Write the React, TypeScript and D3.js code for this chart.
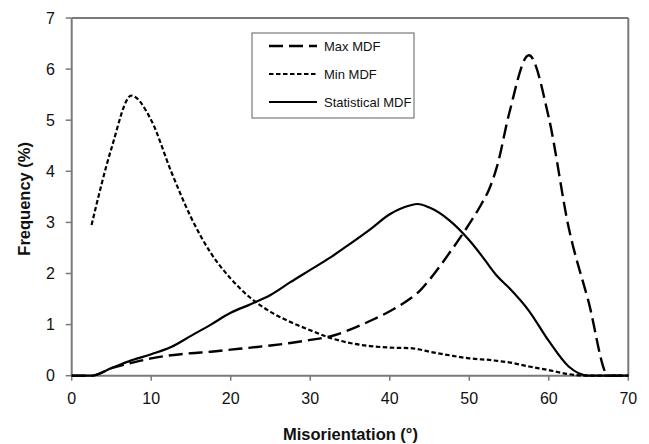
import React from "react";
import * as d3 from "d3";

// Misorientation angle (degrees) sample points
const angles = [0, 2.5, 5, 7.5, 10, 12.5, 15, 17.5, 20, 22.5, 25, 27.5, 30, 32.5, 35, 37.5, 40, 42.5, 43.5, 45, 47.5, 50, 51.5, 52.5, 53.5, 55, 57.5, 60, 62.5, 65, 67.5, 70];

// Frequency (%) for each distribution
const maxMdf = [0, 0, 0.15, 0.25, 0.34, 0.4, 0.44, 0.47, 0.51, 0.55, 0.59, 0.64, 0.7, 0.77, 0.9, 1.07, 1.26, 1.5, 1.62, 1.88, 2.4, 2.97, 3.35, 3.65, 4.1, 5.12, 6.27, 5.05, 2.9, 1.45, 0, 0];
const minMdf = [null, 2.95, 4.45, 5.48, 5.0, 4.0, 3.1, 2.4, 1.9, 1.52, 1.25, 1.05, 0.89, 0.74, 0.64, 0.58, 0.55, 0.54, 0.52, 0.47, 0.4, 0.34, 0.32, 0.31, 0.29, 0.26, 0.18, 0.11, 0.03, 0, 0, 0];
const statMdf = [0, 0, 0.15, 0.3, 0.42, 0.56, 0.78, 1.0, 1.23, 1.4, 1.58, 1.83, 2.07, 2.31, 2.58, 2.86, 3.16, 3.33, 3.36, 3.29, 3.04, 2.65, 2.36, 2.15, 1.95, 1.72, 1.27, 0.68, 0.18, 0, 0, 0];

const xTicks = [0, 10, 20, 30, 40, 50, 60, 70];
const yTicks = [0, 1, 2, 3, 4, 5, 6, 7];

const seriesNames = ["Max MDF", "Min MDF", "Statistical MDF"];

const W = 649;
const H = 444;
const left = 71.7;
const right = 628.3;
const top = 18;
const bottom = 375.7;

const font = "'Liberation Sans', Arial, sans-serif";
const axisGray = "#7a7a7a";

export default function App() {
  const x = d3.scaleLinear().domain([0, 70]).range([left, right]);
  const y = d3.scaleLinear().domain([0, 7]).range([bottom, top]);

  const makePath = (vals: (number | null)[]) => {
    const pts = angles
      .map((a, i) => [a, vals[i]] as [number, number | null])
      .filter((p) => p[1] !== null) as [number, number][];
    return d3
      .line<[number, number]>()
      .x((d) => x(d[0]))
      .y((d) => y(d[1]))
      .curve(d3.curveMonotoneX)(pts) as string;
  };

  const styles = [
    { dash: "14,6", width: 2.4 },
    { dash: "4.5,2.5", width: 2.2 },
    { dash: "", width: 2.2 },
  ];
  const data = [maxMdf, minMdf, statMdf];

  const legX = 252;
  const legY = 33;
  const legW = 162;
  const legH = 85;
  const rowY = [46, 74, 102];

  return (
    <svg width={W} height={H} style={{ position: "absolute", left: 0, top: 0, background: "#fff" }}>
      <rect x={0} y={0} width={W} height={H} fill="#fff" />

      {/* plot frame */}
      <line x1={left} y1={top} x2={right} y2={top} stroke={axisGray} strokeWidth={2} />
      <line x1={right} y1={top} x2={right} y2={bottom} stroke={axisGray} strokeWidth={2} />

      {/* y axis */}
      <line x1={left} y1={top} x2={left} y2={bottom} stroke={axisGray} strokeWidth={2} />
      {yTicks.map((t) => (
        <g key={"y" + t}>
          <line x1={left - 6} x2={left} y1={y(t)} y2={y(t)} stroke={axisGray} strokeWidth={1.5} />
          <text x={55} y={y(t)} dy="0.35em" textAnchor="end" fontFamily={font} fontSize={16} fill="#111">
            {t}
          </text>
        </g>
      ))}

      {/* x axis */}
      <line x1={left} y1={bottom} x2={right} y2={bottom} stroke={axisGray} strokeWidth={2} />
      {xTicks.map((t) => (
        <g key={"x" + t}>
          <line x1={x(t)} x2={x(t)} y1={bottom} y2={bottom + 5} stroke={axisGray} strokeWidth={1.5} />
          <text x={x(t)} y={404} textAnchor="middle" fontFamily={font} fontSize={16} fill="#111">
            {t}
          </text>
        </g>
      ))}

      {/* series */}
      {data.map((vals, i) => (
        <path
          key={seriesNames[i]}
          d={makePath(vals)}
          fill="none"
          stroke="#000"
          strokeWidth={styles[i].width}
          strokeDasharray={styles[i].dash || undefined}
        />
      ))}

      {/* axis titles */}
      <text x={350.5} y={440} textAnchor="middle" fontFamily={font} fontSize={16.5} fontWeight="bold" fill="#111">
        Misorientation (°)
      </text>
      <text
        transform={`translate(30,${(top + bottom) / 2 + 2}) rotate(-90)`}
        textAnchor="middle"
        fontFamily={font}
        fontSize={16.5}
        fontWeight="bold"
        fill="#111"
      >
        Frequency (%)
      </text>

      {/* legend */}
      <rect x={legX} y={legY} width={legW} height={legH} fill="#fff" stroke={axisGray} strokeWidth={1.2} />
      {seriesNames.map((n, i) => (
        <g key={"leg" + n}>
          <line
            x1={269}
            x2={317}
            y1={rowY[i]}
            y2={rowY[i]}
            stroke="#000"
            strokeWidth={styles[i].width}
            strokeDasharray={styles[i].dash || undefined}
          />
          <text x={324} y={rowY[i]} dy="0.35em" fontFamily={font} fontSize={13} fill="#111">
            {n}
          </text>
        </g>
      ))}
    </svg>
  );
}
